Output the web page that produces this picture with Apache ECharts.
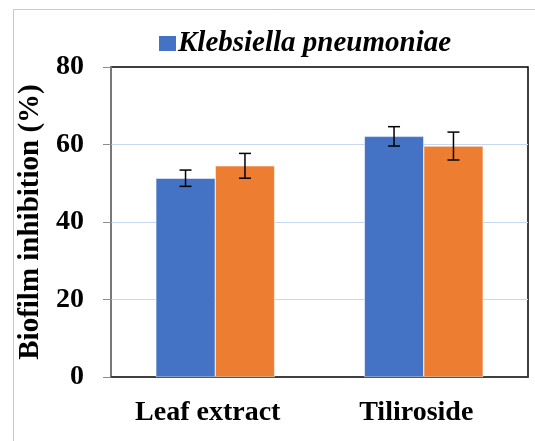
<!DOCTYPE html>
<html>
<head>
<meta charset="utf-8">
<script src="https://cdn.jsdelivr.net/npm/echarts@6/dist/echarts.min.js"></script>
<style>html,body{margin:0;padding:0;background:#fff}#c{width:535px;height:441px}</style>
</head>
<body>
<div id="c"></div>
<script>
var categories = ['Leaf extract', 'Tiliroside'];
var seriesNames = ['Klebsiella pneumoniae', 'Series 2'];
var blueValues = [51.3, 62.1];
var blueErrors = [2.1, 2.5];
var orangeValues = [54.5, 59.6];
var orangeErrors = [3.2, 3.6];
var yTicks = [0, 20, 40, 60, 80];

var FONT = '"Liberation Serif", "Times New Roman", serif';
var chart = echarts.init(document.getElementById('c'), null, {renderer: 'canvas'});

function errData(vals, errs) {
  return vals.map(function (v, i) { return [i, v - errs[i], v + errs[i]]; });
}
function errSeries(vals, errs, offset) {
  return {
    type: 'custom',
    xAxisIndex: 0, yAxisIndex: 0,
    z: 10,
    silent: true,
    data: errData(vals, errs),
    renderItem: function (params, api) {
      var i = api.value(0);
      var lo = api.coord([i, api.value(1)]);
      var hi = api.coord([i, api.value(2)]);
      var band = api.size([1, 0])[0];
      var x = lo[0] + offset * band;
      var cap = 6;
      var st = {stroke: '#000', lineWidth: 1.5};
      return {
        type: 'group',
        children: [
          {type: 'line', shape: {x1: x, y1: lo[1], x2: x, y2: hi[1]}, style: st},
          {type: 'line', shape: {x1: x - cap, y1: lo[1], x2: x + cap, y2: lo[1]}, style: st},
          {type: 'line', shape: {x1: x - cap, y1: hi[1], x2: x + cap, y2: hi[1]}, style: st}
        ]
      };
    }
  };
}

var option = {
  animation: false,
  backgroundColor: '#fff',
  graphic: [{
    type: 'rect', left: 11, top: 7, silent: true, z: -10,
    shape: {width: 600, height: 500},
    style: {fill: 'none', stroke: '#c8c8c8', lineWidth: 1}
  }],
  legend: {
    data: [seriesNames[0]],
    left: 157, top: 29, padding: 0,
    icon: 'rect', itemWidth: 19, itemHeight: 17, itemGap: 10,
    textStyle: {fontFamily: FONT, fontWeight: 'bold', fontStyle: 'italic', fontSize: 29, color: '#000', padding: [0, 0, 0, -4]}
  },
  grid: {
    left: 111, right: 7, top: 67, bottom: 64,
    containLabel: false, outerBoundsMode: 'none',
    show: true, borderColor: '#000', borderWidth: 1.5, backgroundColor: 'transparent'
  },
  xAxis: {
    type: 'category',
    data: categories,
    axisLine: {show: true, lineStyle: {color: '#404040', width: 1.5}},
    axisTick: {show: false},
    axisLabel: {fontFamily: FONT, fontWeight: 'bold', fontSize: 28, color: '#000', margin: 22, padding: [0, 15, 0, 0]}
  },
  yAxis: {
    type: 'value',
    min: 0, max: 80, interval: 20,
    name: 'Biofilm inhibition (%)',
    nameLocation: 'middle', nameGap: 64,
    nameTextStyle: {fontFamily: FONT, fontWeight: 'bold', fontSize: 29, color: '#000'},
    axisLine: {show: true, lineStyle: {color: '#8c8c8c', width: 1.5}},
    axisTick: {show: true, length: 8, lineStyle: {color: '#8c8c8c'}},
    axisLabel: {
      fontFamily: FONT, fontWeight: 'bold', fontSize: 28, color: '#000', margin: 27,
      formatter: function (v) { return yTicks.indexOf(v) >= 0 ? String(v) : ''; }
    },
    splitLine: {show: true, showMaxLine: false, showMinLine: false, lineStyle: {color: '#c6d9f1', width: 1}}
  },
  series: [{
    name: seriesNames[0],
    type: 'bar',
    data: blueValues,
    barGap: '0%',
    barCategoryGap: '43%',
    itemStyle: {color: '#4472C4', borderColor: '#fff', borderWidth: 0.5}
  }, {
    name: seriesNames[1],
    type: 'bar',
    data: orangeValues,
    barGap: '0%',
    barCategoryGap: '43%',
    itemStyle: {color: '#ED7D31', borderColor: '#fff', borderWidth: 0.5}
  },
  errSeries(blueValues, blueErrors, -0.1425),
  errSeries(orangeValues, orangeErrors, 0.1425)
  ]
};
chart.setOption(option);
</script>
</body>
</html>
